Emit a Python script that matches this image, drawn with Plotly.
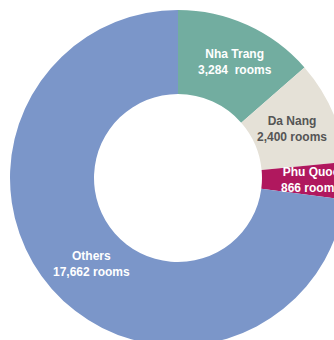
import math
import plotly.graph_objects as go

cities = ["Nha Trang", "Da Nang", "Phu Quoc", "Others"]
rooms = [3284, 2400, 866, 17662]
label_text = ["Nha Trang<br>3,284  rooms", "Da Nang<br>2,400 rooms",
              "Phu Quoc<br>866 rooms", "Others<br>17,662 rooms"]

# styling
colors = ["#72ada0", "#e5e1d7", "#b0185e", "#7b96c9"]
text_colors = ["#ffffff", "#555555", "#ffffff", "#ffffff"]
label_radius_px = [129, 124, 133, 122]      # distance of label from centre
label_angle_nudge = [1.8, 0.0, 0.0, -3.7]   # degrees
FONT = "Liberation Sans, Arial, Helvetica, sans-serif"

W = H = 356
M = 10
plot_px = W - 2 * M

fig = go.Figure(go.Pie(
    labels=cities,
    values=rooms,
    textinfo="none",
    marker=dict(colors=colors, line=dict(width=0)),
    hole=0.5,
    sort=False,
    direction="clockwise",
    rotation=0,
    showlegend=False,
    hoverinfo="skip",
))

total = sum(rooms)
cum = 0.0
annotations = []
for i, v in enumerate(rooms):
    mid = (cum + v / 2) / total * 360 + label_angle_nudge[i]
    cum += v
    r = label_radius_px[i] / plot_px
    ax = 0.5 + r * math.sin(math.radians(mid))
    ay = 0.5 + r * math.cos(math.radians(mid))
    annotations.append(dict(
        x=ax, y=ay, xref="paper", yref="paper",
        text="<b>" + label_text[i] + "</b>",
        showarrow=False, xanchor="center", yanchor="middle",
        font=dict(family=FONT, size=12, color=text_colors[i]),
    ))

fig.update_layout(
    width=W, height=H,
    margin=dict(l=M, r=M, t=M, b=M),
    paper_bgcolor="white",
    plot_bgcolor="white",
    annotations=annotations,
)

fig.write_html(
    "out.html",
    post_script="document.body.style.margin='0';document.body.style.overflow='hidden';document.documentElement.style.overflow='hidden';",
)
